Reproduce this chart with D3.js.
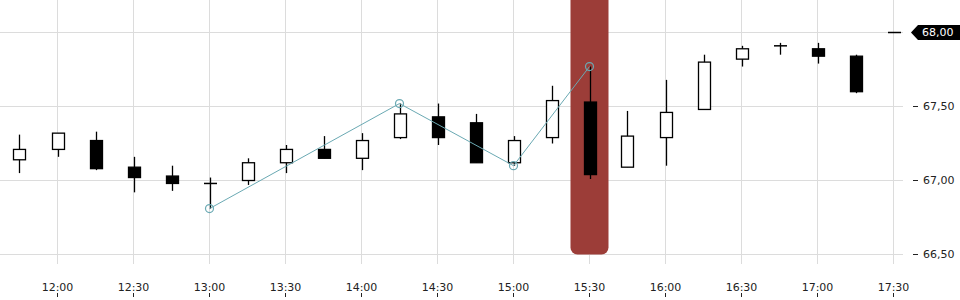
<!DOCTYPE html>
<html>
<head>
<meta charset="utf-8">
<script src="https://cdn.jsdelivr.net/npm/d3@7/dist/d3.min.js"></script>
<style>
  html, body { margin: 0; padding: 0; background: #fff; }
  svg { display: block; font-family: "DejaVu Sans", sans-serif; }
</style>
</head>
<body>
<svg id="chart" width="960" height="300"></svg>
<script>
// ---- data ----
const times = ["11:45","12:00","12:15","12:30","12:45","13:00","13:15","13:30","13:45","14:00","14:15","14:30",
               "14:45","15:00","15:15","15:30","15:45","16:00","16:15","16:30","16:45","17:00","17:15","17:30"];
const open  = [67.14, 67.21, 67.27, 67.09, 67.03, 66.98, 67.00, 67.12, 67.21, 67.15, 67.29, 67.43,
               67.39, 67.12, 67.29, 67.53, 67.09, 67.29, 67.48, 67.82, 67.91, 67.89, 67.84, 68.00];
const high  = [67.31, 67.32, 67.33, 67.16, 67.10, 67.02, 67.15, 67.24, 67.30, 67.32, 67.52, 67.52,
               67.45, 67.30, 67.64, 67.77, 67.47, 67.68, 67.85, 67.91, 67.93, 67.93, 67.85, 68.00];
const low   = [67.05, 67.16, 67.07, 66.92, 66.93, 66.81, 66.97, 67.05, 67.15, 67.07, 67.28, 67.24,
               67.12, 67.10, 67.25, 67.01, 67.09, 67.10, 67.48, 67.77, 67.85, 67.79, 67.59, 68.00];
const close = [67.21, 67.32, 67.08, 67.02, 66.98, 66.98, 67.12, 67.21, 67.15, 67.27, 67.45, 67.29,
               67.12, 67.27, 67.54, 67.04, 67.30, 67.46, 67.80, 67.89, 67.91, 67.84, 67.60, 68.00];
const zigzagTimes  = ["13:00","14:15","15:00","15:30"];
const zigzagValues = [66.81, 67.52, 67.10, 67.77];
const highlightTime = "15:30";
const lastPrice = 68.00;
const xTickLabels = ["12:00","12:30","13:00","13:30","14:00","14:30","15:00","15:30","16:00","16:30","17:00","17:30"];
const yTickValues = [66.5, 67.0, 67.5, 68.0];

// ---- helpers ----
const parseT = d3.timeParse("%H:%M");
const fmtTime = d3.timeFormat("%H:%M");
const loc = d3.formatLocale({decimal: ",", thousands: ".", grouping: [3], currency: ["", ""]});
const fmtPrice = loc.format(".2f");

const data = times.map((t, i) => ({t: parseT(t), o: open[i], h: high[i], l: low[i], c: close[i]}));

const svg = d3.select("#chart");
const plotRight = 903, plotBottom = 264;

const x = d3.scaleTime()
  .domain([parseT("12:00"), parseT("17:30")])
  .range([57.5, 893.5]);
const y = d3.scaleLinear()
  .domain([66.5, 68.0])
  .range([254.5, 32.5]);

const gridColor = "#dcdcdc";
const textColor = "#222";

// vertical gridlines
const xTicks = xTickLabels.map(parseT);
svg.append("g").selectAll("line").data(xTicks).join("line")
  .attr("x1", d => x(d)).attr("x2", d => x(d))
  .attr("y1", 0).attr("y2", plotBottom)
  .attr("stroke", gridColor).attr("stroke-width", 1);

// horizontal gridlines
svg.append("g").selectAll("line").data(yTickValues).join("line")
  .attr("x1", 0).attr("x2", plotRight)
  .attr("y1", d => y(d)).attr("y2", d => y(d))
  .attr("stroke", gridColor).attr("stroke-width", 1);

// highlight bar
const hx = x(parseT(highlightTime));
const step = x(parseT("12:15")) - x(parseT("12:00"));
svg.append("rect")
  .attr("x", hx - step / 2).attr("width", step)
  .attr("y", -20).attr("height", y(66.5) + 20)
  .attr("rx", 7).attr("ry", 7)
  .attr("fill", "#9c3d38");

// candles
const bw = 12;
const cg = svg.append("g");
data.forEach(d => {
  const cx = Math.round(x(d.t)) + 0.5;
  if (d.h !== d.l) {
    cg.append("line")
      .attr("x1", cx).attr("x2", cx)
      .attr("y1", y(d.h)).attr("y2", y(d.l))
      .attr("stroke", "#000").attr("stroke-width", 1.3);
  }
  if (Math.abs(d.o - d.c) < 1e-9) {
    cg.append("line")
      .attr("x1", cx - 6.5).attr("x2", cx + 6.5)
      .attr("y1", y(d.o)).attr("y2", y(d.o))
      .attr("stroke", "#000").attr("stroke-width", 1.5);
  } else {
    const up = d.c > d.o;
    const top = y(Math.max(d.o, d.c)), bot = y(Math.min(d.o, d.c));
    cg.append("rect")
      .attr("x", cx - bw / 2).attr("width", bw)
      .attr("y", top).attr("height", bot - top)
      .attr("fill", up ? "#fff" : "#000")
      .attr("stroke", "#000").attr("stroke-width", 1.3);
  }
});

// zigzag line
const zz = zigzagTimes.map((t, i) => ({t: parseT(t), v: zigzagValues[i]}));
const zzColor = "#6aa9b3";
svg.append("path")
  .datum(zz)
  .attr("d", d3.line().x(d => x(d.t)).y(d => y(d.v)))
  .attr("fill", "none").attr("stroke", zzColor).attr("stroke-width", 1);
svg.append("g").selectAll("circle").data(zz).join("circle")
  .attr("cx", d => x(d.t)).attr("cy", d => y(d.v)).attr("r", 4)
  .attr("fill", "none").attr("stroke", zzColor).attr("stroke-width", 1.2);

// right axis
const ry = svg.append("g");
yTickValues.filter(v => v !== lastPrice).forEach(v => {
  ry.append("line").attr("x1", 913).attr("x2", 918)
    .attr("y1", y(v)).attr("y2", y(v)).attr("stroke", textColor).attr("stroke-width", 1);
  ry.append("text").attr("x", 923).attr("y", y(v)).attr("dy", "0.35em")
    .attr("font-size", 11).attr("fill", textColor).text(fmtPrice(v));
});
// last price marker
const ly = y(lastPrice);
svg.append("path")
  .attr("d", `M911,${ly} L918,${ly - 7.5} L960,${ly - 7.5} L960,${ly + 7.5} L918,${ly + 7.5} Z`)
  .attr("fill", "#000");
svg.append("text").attr("x", 922).attr("y", ly).attr("dy", "0.35em")
  .attr("font-size", 11).attr("fill", "#fff").text(fmtPrice(lastPrice));

// bottom axis
const bx = svg.append("g");
xTicks.forEach(t => {
  bx.append("text").attr("x", x(t)).attr("y", 291).attr("text-anchor", "middle")
    .attr("font-size", 11).attr("fill", textColor).text(fmtTime(t));
  bx.append("line").attr("x1", x(t)).attr("x2", x(t)).attr("y1", 293).attr("y2", 297)
    .attr("stroke", textColor).attr("stroke-width", 1);
});
</script>
</body>
</html>
